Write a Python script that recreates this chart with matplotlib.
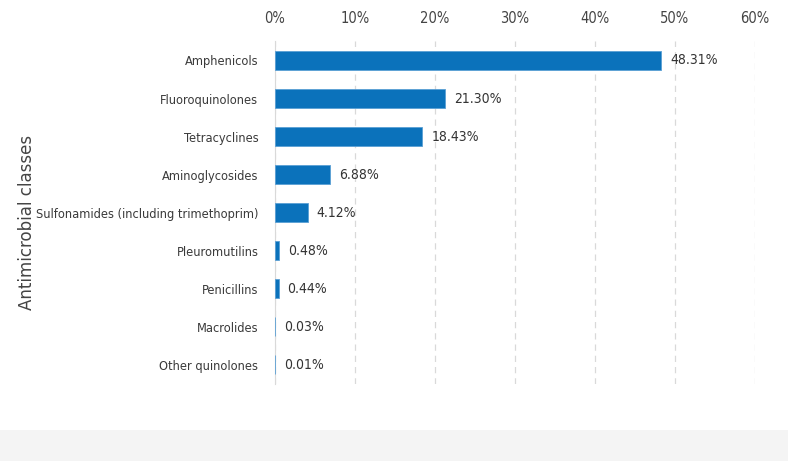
import matplotlib.pyplot as plt
from matplotlib.patches import Rectangle

plt.rcParams['font.family'] = ['DejaVu Sans']
plt.rcParams['font.stretch'] = 'condensed'

# share of antimicrobial use by class (%)
classes = ['Amphenicols', 'Fluoroquinolones', 'Tetracyclines', 'Aminoglycosides',
           'Sulfonamides (including trimethoprim)', 'Pleuromutilins', 'Penicillins',
           'Macrolides', 'Other quinolones']
shares = [48.31, 21.30, 18.43, 6.88, 4.12, 0.48, 0.44, 0.03, 0.01]
ticks = [0, 10, 20, 30, 40, 50, 60]

fig = plt.figure(figsize=(7.88, 4.61), dpi=100)
ax = fig.add_axes([0.349, 0.168, 0.609, 0.742])

# light grey footer band
fig.patches.append(Rectangle((0, 0), 1, 0.068, transform=fig.transFigure,
                             facecolor='#f4f4f4', edgecolor='none', zorder=0))

ypos = list(range(len(classes)))
ax.barh(ypos, shares, height=0.52, color='#0b72bb', edgecolor='#5a9fd4',
        linewidth=0.6, zorder=3)
for y, v in zip(ypos, shares):
    ax.text(v + 1.1, y, f'{v:.2f}%', va='center', ha='left', fontsize=10,
            color='#333333')

ax.set_xlim(0, 60)
ax.set_ylim(len(classes) - 0.5, -0.5)
ax.set_xticks(ticks)
ax.set_xticklabels([f'{t}%' for t in ticks], fontsize=10.5, color='#444444')
ax.xaxis.tick_top()
ax.tick_params(axis='x', length=0, pad=11)
ax.set_yticks(ypos)
ax.set_yticklabels(classes, fontsize=9.2, color='#3a3a3a')
ax.tick_params(axis='y', length=0, pad=12)

ax.grid(axis='x', color='#d9d9d9', linestyle=(0, (5, 4)), linewidth=0.9, zorder=0)
for s in ['top', 'right', 'bottom']:
    ax.spines[s].set_visible(False)
ax.spines['left'].set_color('#d9d9d9')

fig.text(0.034, 0.518, 'Antimicrobial classes', rotation=90, va='center', ha='center',
         fontsize=12, color='#444444', family=['DejaVu Sans'], stretch='normal')

plt.savefig('out.png', dpi=100)
